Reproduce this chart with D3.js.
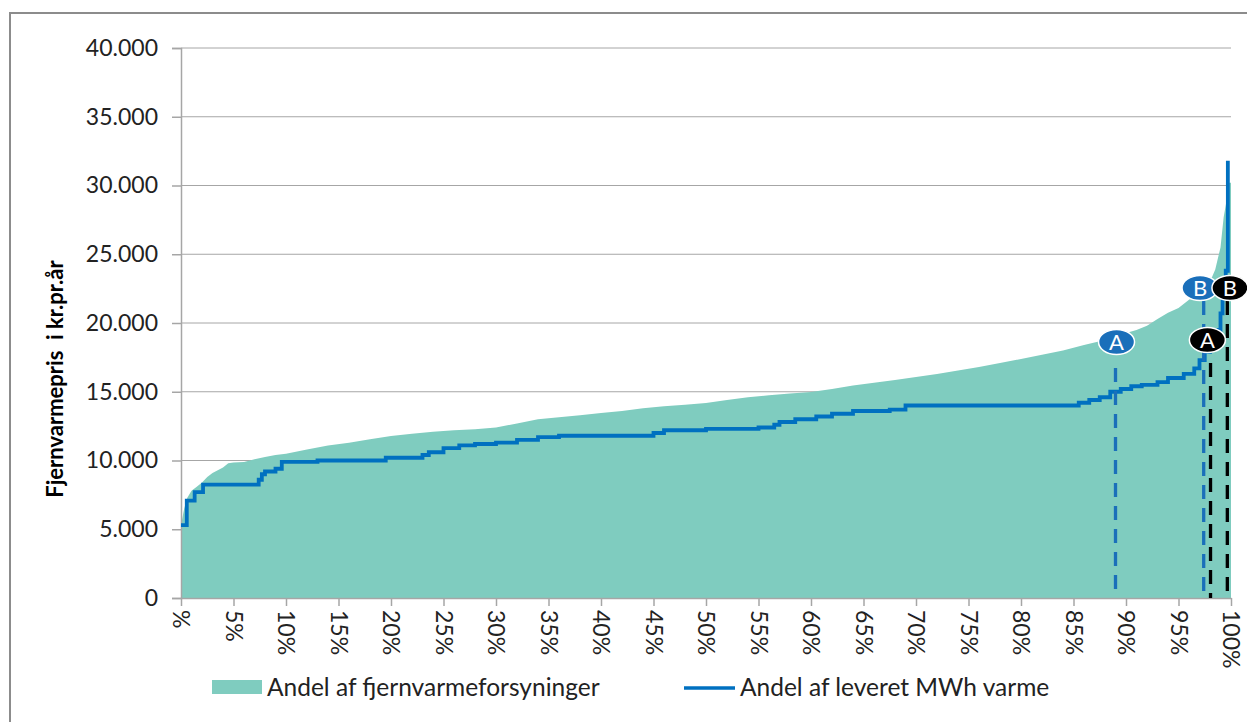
<!DOCTYPE html>
<html>
<head>
<meta charset="utf-8">
<script src="https://cdn.jsdelivr.net/npm/d3@7"></script>
<style>
    body { margin: 0; background: #fff; }
    text { font-family: Lato, "Open Sans", sans-serif; fill: #222; }
</style>
</head>
<body>
<div id="chart"></div>
<script>
// andel af fjernvarmeforsyninger (pct) -> pris
var supplierPct = [0, 0.3, 0.6, 1, 1.5, 2, 2.5, 3, 4, 4.5, 5, 6, 7, 8, 9, 10, 12, 14, 16, 18, 20, 22, 24, 26, 28, 30, 32, 34, 36, 38, 40, 42, 44, 46, 48, 50, 52, 54, 56, 58, 60, 62, 64, 66, 68, 70, 72, 74, 76, 78, 80, 82, 84, 86, 88, 90, 91, 92, 93, 94, 95, 96, 97, 98, 98.5, 99, 99.3, 99.6, 99.8, 100];
var supplierPrice = [5300, 6500, 7300, 7800, 8100, 8400, 8800, 9100, 9500, 9800, 9850, 9900, 10100, 10250, 10400, 10500, 10800, 11100, 11300, 11550, 11780, 11950, 12100, 12200, 12280, 12400, 12700, 13000, 13150, 13300, 13450, 13600, 13800, 13950, 14050, 14180, 14400, 14600, 14750, 14880, 14980, 15200, 15450, 15650, 15850, 16070, 16300, 16550, 16800, 17100, 17380, 17700, 18000, 18400, 18760, 19270, 19500, 19800, 20300, 20750, 21100, 21700, 22300, 23000, 23900, 25500, 27700, 29000, 30200, 30200];

// andel af leveret MWh varme (pct) -> pris
var mwhPct = [0, 0.55, 1.3, 2.1, 7.4, 7.7, 8, 9, 9.6, 13, 19.5, 23, 23.6, 25, 26.5, 28, 30, 32, 34, 36, 45, 46, 50, 55, 56.5, 57, 58.5, 60.5, 62, 64, 67.5, 69, 85.5, 86.5, 87.5, 88.5, 89.5, 90.5, 91.5, 93, 94, 95.5, 96.5, 97, 97.5, 98, 98.5, 98.8, 99, 99.2, 99.5, 99.7];
var mwhPrice = [5300, 7080, 7700, 8250, 8600, 9000, 9200, 9400, 9900, 10000, 10200, 10400, 10600, 10900, 11100, 11200, 11300, 11500, 11700, 11800, 12000, 12200, 12300, 12400, 12600, 12800, 13000, 13200, 13400, 13600, 13700, 14000, 14200, 14400, 14600, 15000, 15200, 15400, 15500, 15700, 16000, 16300, 16700, 17300, 17900, 18300, 19000, 19500, 20700, 21900, 23800, 31800];

var yTicks = [0, 5000, 10000, 15000, 20000, 25000, 30000, 35000, 40000];
var xTicks = [0, 5, 10, 15, 20, 25, 30, 35, 40, 45, 50, 55, 60, 65, 70, 75, 80, 85, 90, 95, 100];
var xTickLabels = ["%", "5%", "10%", "15%", "20%", "25%", "30%", "35%", "40%", "45%", "50%", "55%", "60%", "65%", "70%", "75%", "80%", "85%", "90%", "95%", "100%"];

// markeringer A/B
var markerLabels = ["A", "B", "A", "B"];
var markerKind = ["blue", "blue", "black", "black"];
var markerLinePct = [89, 97.4, 98.05, 99.65];
var markerLineTop = [16730, 21600, 17100, 21600];
var markerLabelPct = [89.1, 97.05, 97.75, 99.9];
var markerLabelPrice = [18620, 22550, 18760, 22550];

var legendLabels = ["Andel af fjernvarmeforsyninger", "Andel af leveret MWh varme"];

var areaColor = "#7FCCBF";
var lineColor = "#0070C0";

var width = 1247, height = 722;
var svg = d3.select("#chart")
    .append("svg")
    .attr("width", width)
    .attr("height", height);

// ramme
svg.append("rect")
    .attr("x", 10)
    .attr("y", 13)
    .attr("width", 1260)
    .attr("height", 740)
    .attr("fill", "none")
    .attr("stroke", "#8c8c8c")
    .attr("stroke-width", 2);

var x = d3.scaleLinear().domain([0, 100]).range([181, 1231]);
var y = d3.scaleLinear().domain([0, 40000]).range([598, 48]);

var loc = d3.formatLocale({decimal: ",", thousands: ".", grouping: [3], currency: ["", " kr"]});
var fmt = loc.format(",");

// gitterlinjer
svg.append("g")
    .selectAll("line")
    .data(yTicks.slice(1))
    .enter()
    .append("line")
    .attr("x1", x(0))
    .attr("x2", x(100))
    .attr("y1", function(d) { return y(d); })
    .attr("y2", function(d) { return y(d); })
    .attr("stroke", "#a6a6a6")
    .attr("stroke-width", 1);

var supplierData = supplierPct.map(function(p, i) { return [p, supplierPrice[i]]; });
var mwhData = mwhPct.map(function(p, i) { return [p, mwhPrice[i]]; });

svg.append("path")
    .datum(supplierData)
    .attr("fill", areaColor)
    .attr("d", d3.area()
        .x(function(d) { return x(d[0]); })
        .y0(y(0))
        .y1(function(d) { return y(d[1]); }));

// y akse
var yAxis = svg.append("g")
    .attr("transform", "translate(" + x(0) + ",0)")
    .call(d3.axisLeft(y).tickValues(yTicks).tickSize(9).tickPadding(14).tickFormat(fmt));
yAxis.select(".domain").attr("stroke", "#a6a6a6").attr("stroke-width", 1.5);
yAxis.selectAll(".tick line").attr("stroke", "#a6a6a6").attr("stroke-width", 1.5);
yAxis.selectAll(".tick text")
    .style("font-size", "23px")
    .attr("fill", "#222");

// x akse
var xAxis = svg.append("g")
    .attr("transform", "translate(0," + y(0) + ")")
    .call(d3.axisBottom(x).tickValues(xTicks).tickSize(8).tickSizeOuter(0)
        .tickFormat(function(d, i) { return xTickLabels[i]; }));
xAxis.select(".domain").attr("stroke", "#a6a6a6").attr("stroke-width", 1.5);
xAxis.selectAll(".tick line").attr("stroke", "#a6a6a6").attr("stroke-width", 1.5);
xAxis.selectAll(".tick text")
    .style("font-size", "23px")
    .attr("fill", "#222")
    .attr("text-anchor", "start")
    .attr("dy", "0.35em")
    .attr("transform", "translate(0,12) rotate(90)")
    .attr("x", 0)
    .attr("y", 0);

svg.append("path")
    .datum(mwhData)
    .attr("fill", "none")
    .attr("stroke", lineColor)
    .attr("stroke-width", 3.8)
    .attr("d", d3.line()
        .curve(d3.curveStepAfter)
        .x(function(d) { return x(d[0]); })
        .y(function(d) { return y(d[1]); }));

// stiplede linjer
markerLabels.forEach(function(lab, i) {
    svg.append("line")
        .attr("x1", x(markerLinePct[i]))
        .attr("x2", x(markerLinePct[i]))
        .attr("y1", y(markerLineTop[i]))
        .attr("y2", y(0))
        .attr("stroke", markerKind[i] == "blue" ? "#1a6fba" : "#000")
        .attr("stroke-width", 3.3)
        .attr("stroke-dasharray", "14,9");
});

markerLabels.forEach(function(lab, i) {
    var g = svg.append("g")
        .attr("transform", "translate(" + x(markerLabelPct[i]) + "," + y(markerLabelPrice[i]) + ")");
    g.append("ellipse")
        .attr("rx", 18)
        .attr("ry", 12.5)
        .attr("fill", markerKind[i] == "blue" ? "#1a6fba" : "#000")
        .attr("stroke", "#fff")
        .attr("stroke-width", 1.5);
    g.append("text")
        .text(lab)
        .attr("text-anchor", "middle")
        .attr("dy", "0.36em")
        .style("font-size", "22px")
        .style("fill", "#fff");
});

// y akse titel
svg.append("text")
    .text("Fjernvarmepris  i kr.pr.år")
    .attr("transform", "translate(63,379) rotate(-90)")
    .attr("text-anchor", "middle")
    .style("font-size", "22px")
    .style("font-weight", "bold")
    .style("fill", "#000")
    .style("white-space", "pre");

// forklaring
svg.append("rect")
    .attr("x", 212)
    .attr("y", 680)
    .attr("width", 50)
    .attr("height", 14)
    .attr("fill", areaColor);

svg.append("text")
    .text(legendLabels[0])
    .attr("x", 267)
    .attr("y", 696)
    .style("font-size", "24.5px");

svg.append("line")
    .attr("x1", 684)
    .attr("x2", 735)
    .attr("y1", 688)
    .attr("y2", 688)
    .attr("stroke", lineColor)
    .attr("stroke-width", 3.5);

svg.append("text")
    .text(legendLabels[1])
    .attr("x", 740)
    .attr("y", 696)
    .style("font-size", "24.5px");
</script>
</body>
</html>
